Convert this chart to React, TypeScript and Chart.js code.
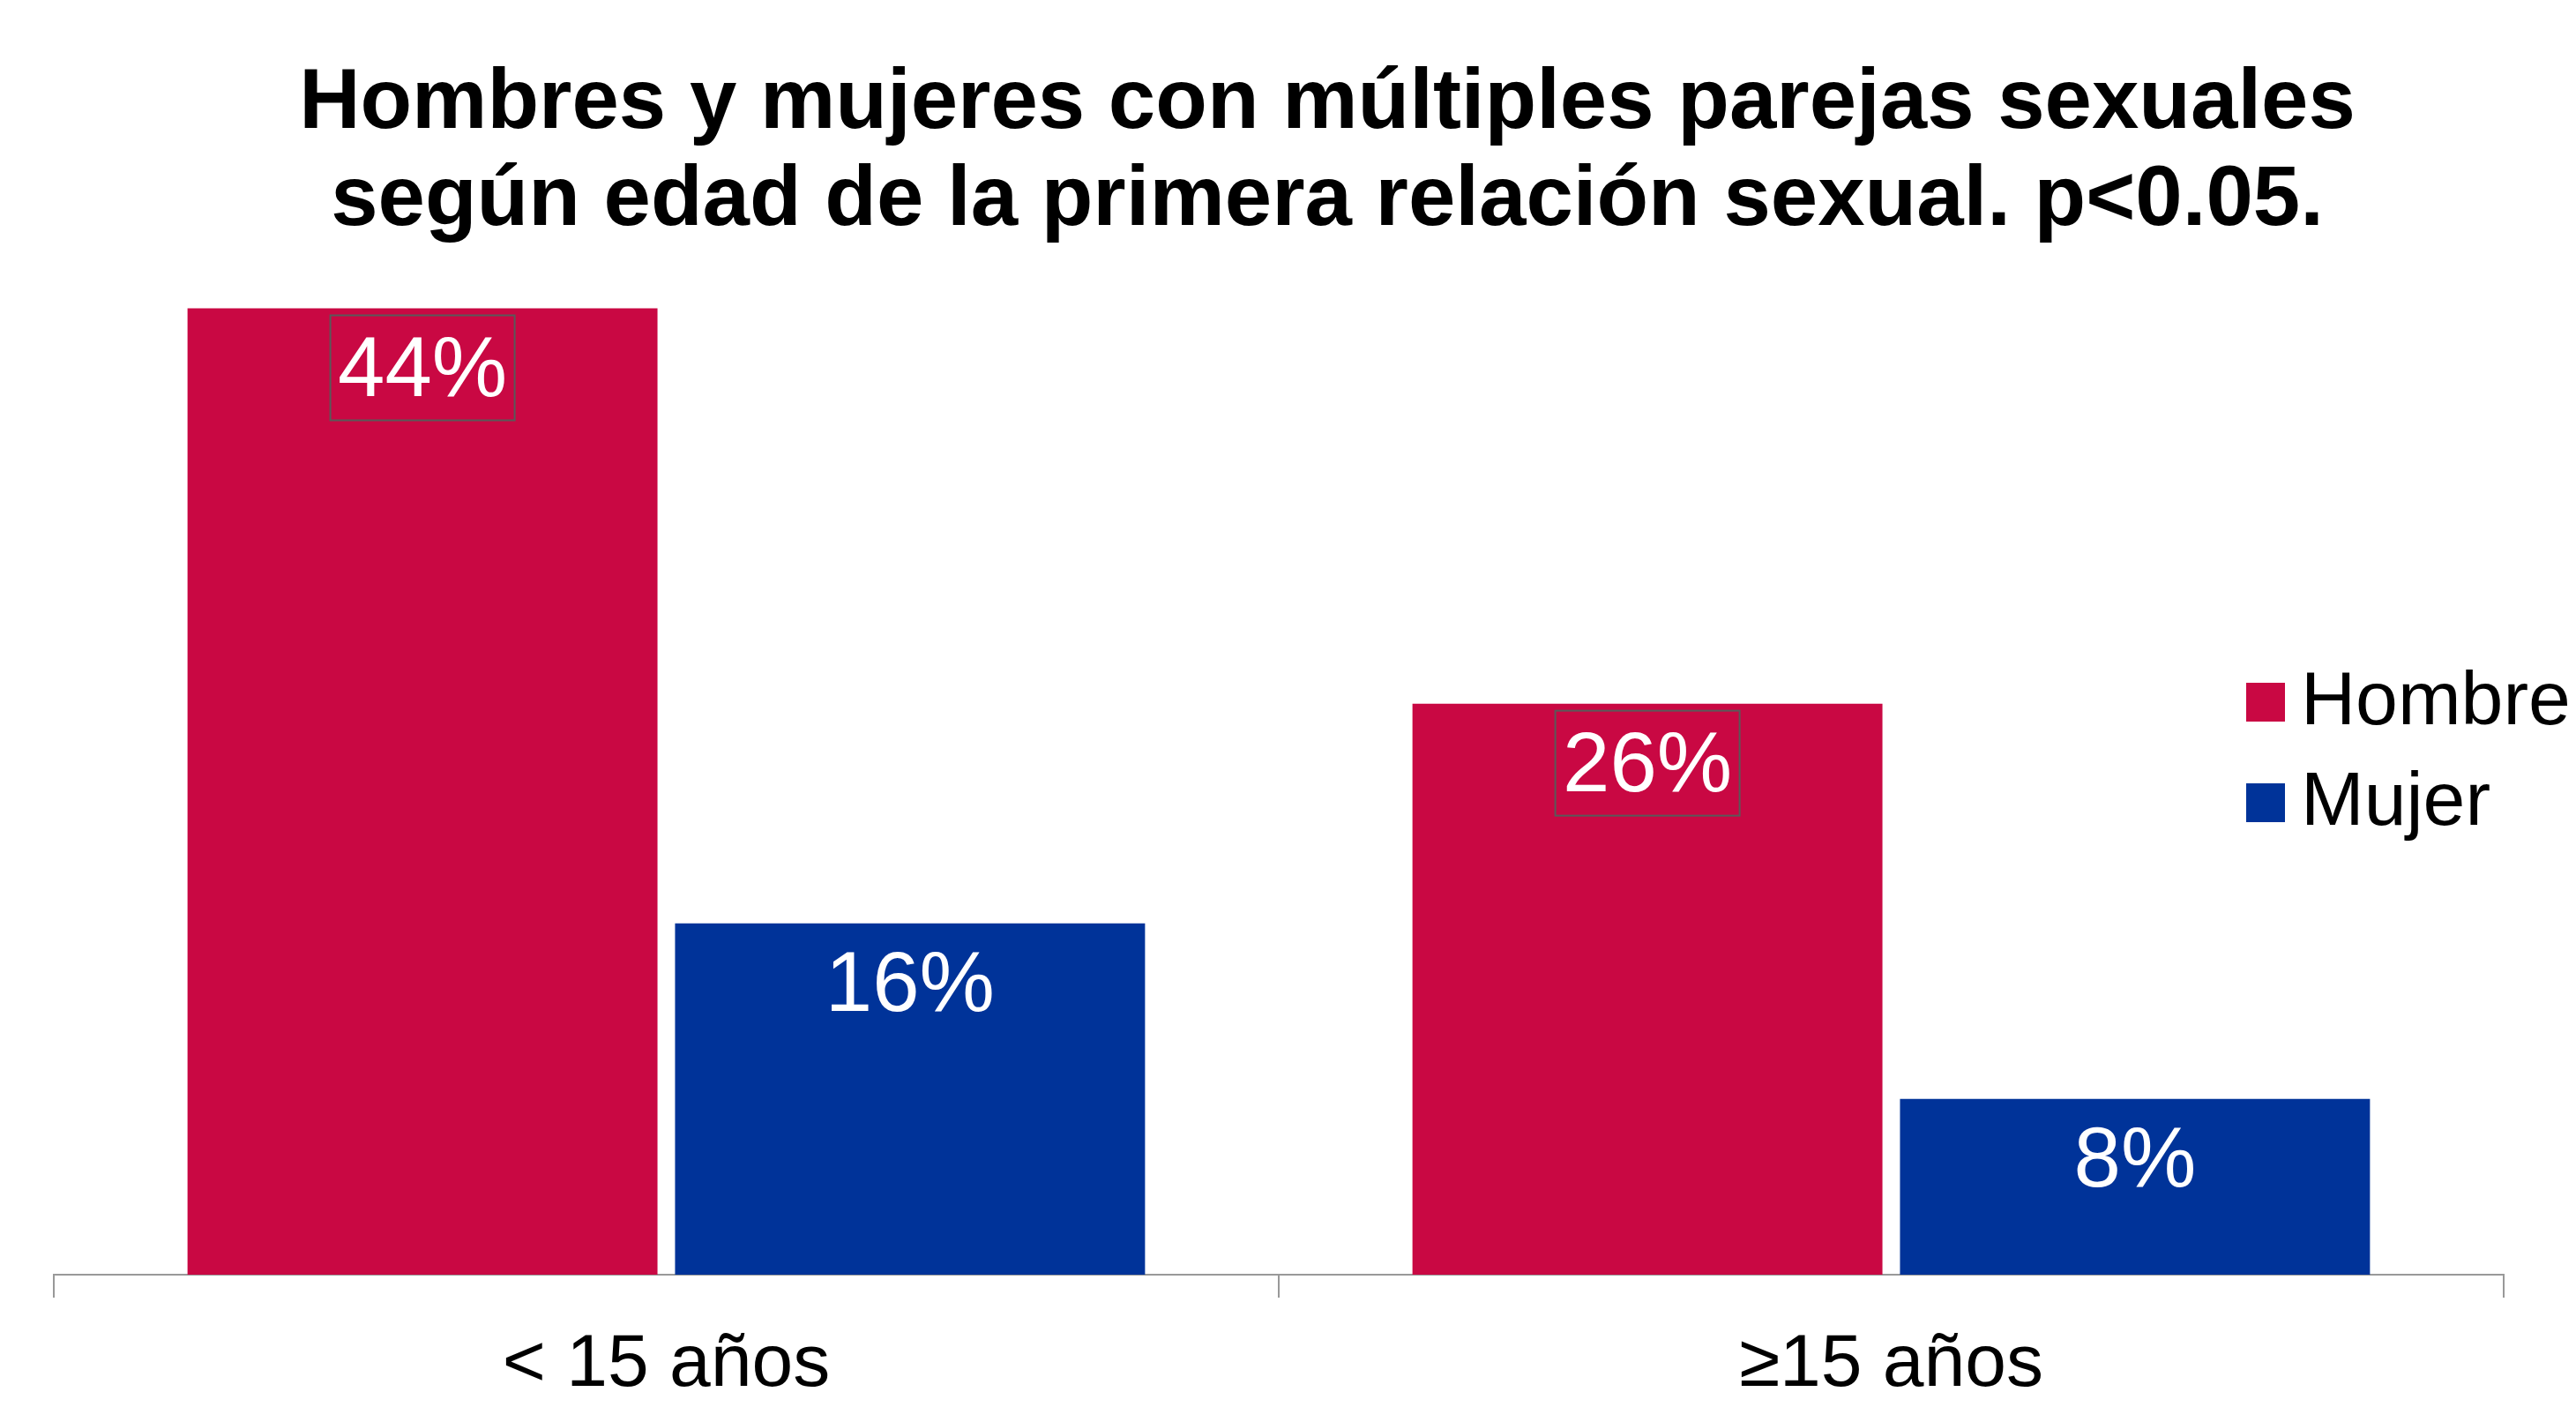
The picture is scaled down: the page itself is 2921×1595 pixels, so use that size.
import React, { useEffect, useRef } from 'react';
import { Chart, registerables } from 'chart.js';

Chart.register(...registerables);

const FONT = "'Liberation Sans', Arial, Helvetica, sans-serif";

const titleLines = [
  'Hombres y mujeres con múltiples parejas sexuales',
  'según edad de la primera relación sexual. p<0.05.',
];
const categories = ['< 15 años', '≥15 años'];
const seriesNames = ['Hombre', 'Mujer'];
const hombreValues = [44, 26];
const mujerValues = [16, 8];
const seriesColors = ['#C90843', '#003399'];
const boxedSeries = [true, false];

const CANVAS_W = 3010;
const CANVAS_H = 1595;
const Y_MAX = 46.63;

const barLabelPlugin = {
  id: 'barLabels',
  afterDatasetsDraw(chart: any) {
    const ctx = chart.ctx;
    chart.data.datasets.forEach((ds: any, di: number) => {
      const meta = chart.getDatasetMeta(di);
      meta.data.forEach((bar: any, i: number) => {
        const v = ds.data[i];
        ctx.save();
        ctx.font = `96px ${FONT}`;
        ctx.fillStyle = '#ffffff';
        ctx.textAlign = 'center';
        ctx.textBaseline = 'middle';
        ctx.fillText(`${v}%`, bar.x, bar.y + 73);
        if (boxedSeries[di]) {
          ctx.strokeStyle = '#595959';
          ctx.lineWidth = 2;
          ctx.strokeRect(bar.x - 104.5, bar.y + 8, 209, 119);
        }
        ctx.restore();
      });
    });
  },
};

const legendPlugin = {
  id: 'customLegend',
  afterDraw(chart: any) {
    const ctx = chart.ctx;
    const x0 = 2547;
    const y0 = 774;
    const step = 114;
    const size = 44;
    chart.data.datasets.forEach((ds: any, di: number) => {
      const top = y0 + di * step;
      ctx.save();
      ctx.fillStyle = ds.backgroundColor;
      ctx.fillRect(x0, top, size, size);
      ctx.font = `86px ${FONT}`;
      ctx.fillStyle = '#000000';
      ctx.textAlign = 'left';
      ctx.textBaseline = 'middle';
      ctx.fillText(ds.label, x0 + 62, top + 23);
      ctx.restore();
    });
  },
};

export default function App() {
  const canvasRef = useRef<HTMLCanvasElement | null>(null);

  useEffect(() => {
    const canvas = canvasRef.current;
    if (!canvas) return;
    const chart = new Chart(canvas, {
      type: 'bar',
      data: {
        labels: categories,
        datasets: [
          {
            label: seriesNames[0],
            data: hombreValues,
            backgroundColor: seriesColors[0],
            borderWidth: 0,
            categoryPercentage: 0.796,
            barPercentage: 0.964,
          },
          {
            label: seriesNames[1],
            data: mujerValues,
            backgroundColor: seriesColors[1],
            borderWidth: 0,
            categoryPercentage: 0.796,
            barPercentage: 0.964,
          },
        ],
      },
      options: {
        responsive: false,
        animation: false,
        devicePixelRatio: 1,
        layout: { padding: 0 },
        plugins: {
          legend: { display: false },
          tooltip: { enabled: false },
          title: {
            display: true,
            text: titleLines,
            color: '#000000',
            font: { family: FONT, size: 96, weight: 'bold', lineHeight: 110 / 96 },
            padding: { top: 64, bottom: 0 },
          },
        },
        scales: {
          x: {
            type: 'category',
            offset: true,
            grid: {
              display: true,
              offset: true,
              drawOnChartArea: false,
              drawTicks: true,
              tickLength: 26,
              color: '#999999',
              lineWidth: 2,
            },
            border: { display: true, color: '#999999', width: 2 },
            ticks: {
              color: '#000000',
              font: { family: FONT, size: 84 },
              padding: 26,
              maxRotation: 0,
              autoSkip: false,
            },
            afterFit: (scale: any) => {
              scale.height = 150;
            },
          },
          y: {
            type: 'linear',
            position: 'left',
            min: 0,
            max: Y_MAX,
            display: true,
            grid: { display: false },
            border: { display: false },
            ticks: { display: false },
            afterFit: (scale: any) => {
              scale.width = 61;
            },
          },
          y2: {
            type: 'linear',
            position: 'right',
            min: 0,
            max: Y_MAX,
            display: true,
            grid: { display: false },
            border: { display: false },
            ticks: { display: false },
            afterFit: (scale: any) => {
              scale.width = CANVAS_W - 2839;
            },
          },
        },
      },
      plugins: [barLabelPlugin, legendPlugin],
    });
    return () => chart.destroy();
  }, []);

  return (
    <div
      style={{
        position: 'fixed',
        left: 0,
        top: 0,
        width: 2921,
        height: CANVAS_H,
        overflow: 'hidden',
        background: '#ffffff',
      }}
    >
      <canvas
        ref={canvasRef}
        width={CANVAS_W}
        height={CANVAS_H}
        style={{ width: CANVAS_W, height: CANVAS_H, display: 'block' }}
      />
    </div>
  );
}
